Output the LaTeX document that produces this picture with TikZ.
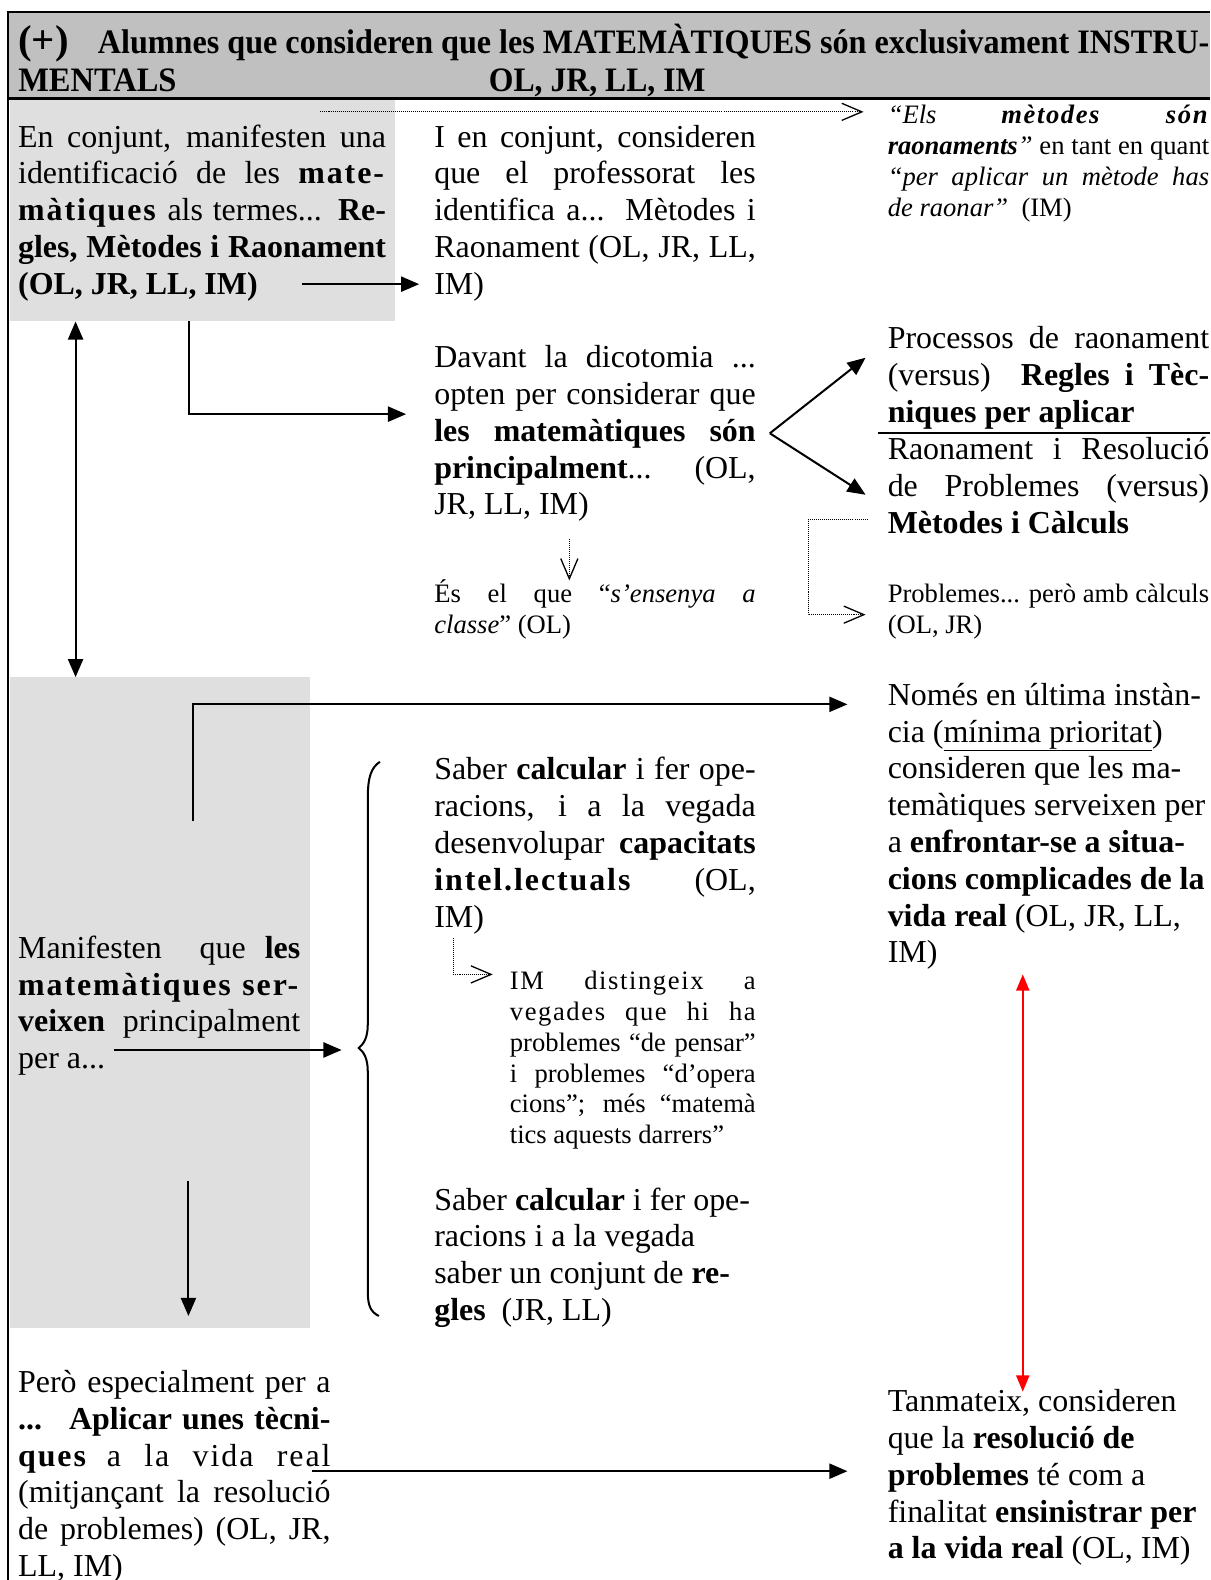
\documentclass[tikz,border=0pt]{standalone}
\usepackage{fontspec}
\usepackage{graphicx}
\setmainfont{Liberation Serif}
\usetikzlibrary{arrows.meta}
\definecolor{hdrgray}{HTML}{C0C0C0}
\definecolor{boxgray}{HTML}{DFDFDF}

\newcommand\bodyfont{\fontsize{31.7}{36.5}\selectfont}
\newcommand\smallfont{\fontsize{26.4}{30.6}\selectfont}
% a block of lines set one by one: justified (\jl) or natural (\nl)
\newcommand\para[2]{\vtop{\hsize=#1\relax\parindent=0pt #2}}
\newcommand\jl[1]{\hbox to\hsize{#1}}
\newcommand\nl[1]{\hbox{#1}}
\newcommand\lsp[1]{{\addfontfeatures{LetterSpace=6}#1}}
\newcommand\hdr[2]{\resizebox{#1}{\height}{\fontsize{34}{38}\selectfont\bfseries #2}}

\tikzset{
  txt/.style={anchor=base west, inner sep=0pt, outer sep=0pt, font=\bodyfont},
  stxt/.style={anchor=base west, inner sep=0pt, outer sep=0pt, font=\smallfont},
  arr/.style={line width=2pt, -{Triangle[length=18pt,width=15pt]}},
  dblarr/.style={line width=2pt, {Triangle[length=18pt,width=15pt]}-{Triangle[length=18pt,width=15pt]}},
  redarr/.style={line width=1.6pt, red, {Triangle[length=16pt,width=13pt]}-{Triangle[length=16pt,width=13pt]}},
  dotarr/.style={line width=1pt, densely dotted, -{Straight Barb[length=20pt,width=17pt,line width=1.3pt,sep=0pt]}},
  graybox/.style={fill=boxgray, draw=none, inner sep=0pt, outer sep=0pt, anchor=north west},
}

\begin{document}
\begin{tikzpicture}[x=1pt,y=-1pt]
\useasboundingbox (0,0) rectangle (1201,1568);
\fill[white] (0,0) rectangle (1201,1568);

% header band and frame
\fill[hdrgray] (8,12) rectangle (1201,98);
\draw[line width=2.5pt] (1201,12) -- (8,12) -- (8,1568);
\draw[line width=2.5pt] (8,98) -- (1201,98);

% shaded panels
\node[graybox, minimum width=382pt, minimum height=220pt] (box1) at (10,99) {};
\node[graybox, minimum width=298pt, minimum height=646pt] (box2) at (10,672) {};

% title
\node[anchor=base west, inner sep=0pt] (plus) at (18,53) {\resizebox{50pt}{\height}{\fontsize{40}{40}\selectfont\bfseries (+)}};
\node[anchor=base west, inner sep=0pt] (title1) at (97,53)
  {\hdr{1103pt}{Alumnes que consideren que les MATEMÀTIQUES són exclusivament INSTRU-}};
\node[anchor=base west, inner sep=0pt] (title2) at (18,91) {\hdr{157pt}{MENTALS}};
\node[anchor=base west, inner sep=0pt] (title3) at (485,91) {\hdr{215pt}{OL, JR, LL, IM}};

% column 1
\node[txt] (n1) at (18,146) {\para{365pt}{%
\jl{En conjunt, manifesten una}%
\jl{identificació de les \textbf{\lsp{mate-}}}%
\jl{\textbf{\lsp{màtiques}} als termes... \textbf{Re-}}%
\jl{\textbf{gles, Mètodes i Raonament}}%
\nl{\textbf{(OL, JR, LL, IM)}}}};

\node[txt] (n9) at (18,951) {\para{280pt}{%
\jl{Manifesten \ que \textbf{les}}%
\jl{\textbf{\lsp{matemàtiques ser-}}}%
\jl{\textbf{veixen} principalment}%
\nl{per a...}}};

\node[txt] (n13) at (18,1382) {\para{310pt}{%
\jl{Però especialment per a}%
\jl{\textbf{... \ Aplicar unes tècni-}}%
\jl{\textbf{\lsp{ques}} \lsp{a la vida real}}%
\jl{(mitjançant la resolució}%
\jl{de problemes) (OL, JR,}%
\nl{LL, IM)}}};

% column 2
\node[txt] (n2) at (431,146) {\para{319pt}{%
\jl{I en conjunt, consideren}%
\jl{que el professorat les}%
\jl{identifica a... Mètodes i}%
\jl{Raonament (OL, JR, LL,}%
\nl{IM)}}};

\node[txt] (n4) at (431,365) {\para{319pt}{%
\jl{Davant la dicotomia ...}%
\jl{opten per considerar que}%
\jl{\textbf{les matemàtiques són}}%
\jl{\textbf{principalment}... \ (OL,}%
\nl{JR, LL, IM)}}};

\node[stxt] (n5) at (431,598) {\para{319pt}{%
\jl{És el que “\textit{s’ensenya a}}%
\nl{\textit{classe}” (OL)}}};

\node[txt] (n10) at (431,774) {\para{319pt}{%
\jl{Saber \textbf{calcular} i fer ope-}%
\jl{racions, i a la vegada}%
\jl{desenvolupar \textbf{capacitats}}%
\jl{\textbf{\lsp{intel.lectuals}} \quad (OL,}%
\nl{IM)}}};

\node[stxt] (n11) at (506,982) {\para{244pt}{%
\jl{\lsp{IM \ distingeix \ a}}%
\jl{\lsp{vegades que hi ha}}%
\jl{problemes “de pensar”}%
\jl{i problemes “d’opera}%
\jl{cions”; més “matemà}%
\nl{tics aquests darrers”}}};

\node[txt] (n12) at (431,1201) {\para{319pt}{%
\nl{Saber \textbf{calcular} i fer ope-}%
\nl{racions i a la vegada}%
\nl{saber un conjunt de \textbf{re-}}%
\nl{\textbf{gles} \ (JR, LL)}}};

% column 3
\node[stxt] (n3) at (881,123) {\para{319pt}{%
\jl{\textit{“Els} \textbf{\textit{\lsp{mètodes}}} \textbf{\textit{\lsp{són}}}}%
\jl{\textbf{\textit{raonaments}}\textit{”} en tant en quant}%
\jl{\textit{“per aplicar un mètode has}}%
\nl{\textit{de raonar”} \ (IM)}}};

\node[txt] (n6) at (881,346) {\para{319pt}{%
\jl{Processos de raonament}%
\jl{(versus) \ \textbf{Regles i Tèc-}}%
\nl{\textbf{niques per aplicar}}}};

\node[txt] (n6b) at (881,456) {\para{319pt}{%
\jl{Raonament i Resolució}%
\jl{de Problemes (versus)}%
\nl{\textbf{Mètodes i Càlculs}}}};

\node[stxt] (n7) at (881,598) {\para{319pt}{%
\nl{Problemes... però amb càlculs}%
\nl{(OL, JR)}}};

\node[txt] (n8) at (881,700) {\para{319pt}{%
\nl{Només en última instàn-}%
\nl{cia (\underline{mínima prioritat})}%
\nl{consideren que les ma-}%
\nl{temàtiques serveixen per}%
\nl{a \textbf{enfrontar-se a situa-}}%
\nl{\textbf{cions complicades de la}}%
\nl{\textbf{vida real} (OL, JR, LL,}%
\nl{IM)}}};

\node[txt] (n14) at (881,1401) {\para{310pt}{%
\nl{Tanmateix, consideren}%
\nl{que la \textbf{resolució de}}%
\nl{\textbf{problemes} té com a}%
\nl{finalitat \textbf{ensinistrar per}}%
\nl{\textbf{a la vida real} (OL, IM)}}};

% separator between the two alternatives
\draw[line width=2pt] (871,430) -- (1201,430);

% connectors
\coordinate (dA) at (318,111);
\coordinate (dAend) at (857,111);
\draw[dotarr] (dA) -- (dAend);

\coordinate (a1s) at (300,282);
\coordinate (a1e) at (416,282);
\draw[arr] (a1s) -- (a1e);

\draw[dblarr] ([xshift=65pt]box1.south west) -- ([xshift=65pt]box2.north west);

\coordinate (a2e) at (403,411);
\draw[arr] ([xshift=178pt]box1.south west) |- (a2e);

\coordinate (fork) at (764,430);
\coordinate (forkup) at (859,355);
\coordinate (forkdn) at (859,491);
\draw[arr] (fork) -- (forkup);
\draw[arr] (fork) -- (forkdn);

\coordinate (d2s) at (565,535);
\coordinate (d2e) at (565,576);
\draw[dotarr] (d2s) -- (d2e);

\coordinate (d3s) at (861,516);
\coordinate (d3m) at (802,516);
\coordinate (d3e) at (859,610);
\draw[dotarr] (d3s) -- (d3m) |- (d3e);

\coordinate (a3s) at (192,815);
\coordinate (a3e) at (841,699);
\draw[arr] (a3s) |- (a3e);

\coordinate (a4s) at (113,1042);
\coordinate (a4e) at (339,1042);
\draw[arr] (a4s) -- (a4e);

% brace grouping the two answers
\draw[line width=2pt] (377,756) .. controls (368,762) and (365,772) .. (365,792)
  -- (365,1016) .. controls (365,1030) and (361,1036) .. (356,1040)
  .. controls (361,1044) and (365,1050) .. (365,1064)
  -- (365,1282) .. controls (365,1296) and (368,1302) .. (376,1306);

\coordinate (d4s) at (450,931);
\coordinate (d4e) at (489,967);
\draw[dotarr] (d4s) |- (d4e);

\coordinate (a5s) at (187,1172);
\coordinate (a5e) at (187,1306);
\draw[arr] (a5s) -- (a5e);

\coordinate (a6s) at (310,1460);
\coordinate (a6e) at (841,1460);
\draw[arr] (a6s) -- (a6e);

\coordinate (r1) at (1015,967);
\coordinate (r2) at (1015,1381);
\draw[redarr] (r1) -- (r2);
\end{tikzpicture}
\end{document}
